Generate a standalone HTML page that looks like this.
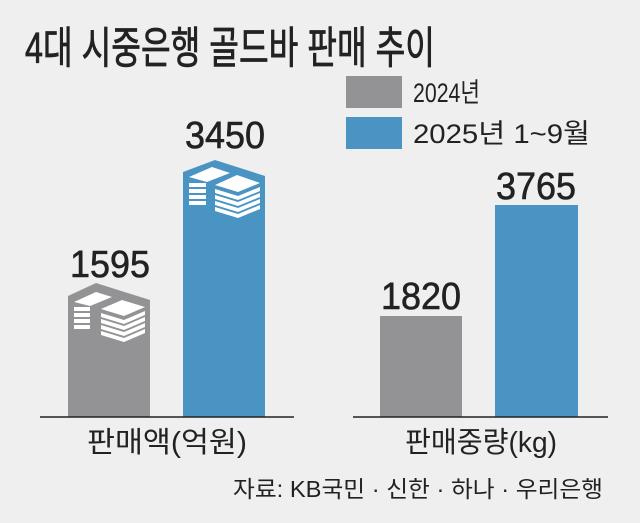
<!DOCTYPE html>
<html><head><meta charset="utf-8"><style>
html,body{margin:0;padding:0;background:#efefef;}
svg{display:block}
text{font-family:"Liberation Sans","Noto Sans CJK KR",sans-serif;fill:#222;}
</style></head><body>
<svg width="640" height="523" viewBox="0 0 640 523">
<rect width="640" height="523" fill="#efefef"/>
<text x="25" y="63" font-size="44" stroke="#222" stroke-width="0.8" textLength="410" lengthAdjust="spacingAndGlyphs">4대 시중은행 골드바 판매 추이</text>
<rect x="346" y="76" width="56" height="32" fill="#939396"/>
<rect x="346" y="117" width="56" height="32" fill="#4a94c4"/>
<text x="413" y="102" font-size="27" textLength="67" lengthAdjust="spacingAndGlyphs">2024년</text>
<text x="413" y="143" font-size="27" textLength="177" lengthAdjust="spacingAndGlyphs">2025년 1~9월</text>

<!-- left group -->
<polygon points="68,296 96,283 150,300 150,417 68,417" fill="#939396"/>
<g fill="#fff">
<polygon points="74,302 96,292 112,297 90,306"/>
<rect x="74" y="307" width="16" height="4"/><rect x="74" y="313" width="16" height="4"/><rect x="74" y="319" width="16" height="4"/><rect x="74" y="325" width="16" height="4"/>
<polygon points="101,309 122,300 145,307 124,316"/>
<polygon points="101,313 124,320 145,311 145,315 124,324 101,317"/>
<polygon points="101,319 124,326 145,317 145,321 124,330 101,323"/>
<polygon points="101,325 124,332 145,323 145,327 124,336 101,329"/>
<polygon points="101,331 124,338 145,329 145,333 124,342 101,335"/>
</g>
<polygon points="183,172 215,160 265,176 265,417 183,417" fill="#4a94c4"/>
<g fill="#fff">
<polygon points="189,177 212,167 230,173 207,182"/>
<rect x="189" y="183" width="17" height="4"/><rect x="189" y="189" width="17" height="4"/><rect x="189" y="195" width="17" height="4"/><rect x="189" y="201" width="17" height="4"/>
<polygon points="215,185 237,175 260,183 238,192"/>
<polygon points="215,189 238,196 260,187 260,191 238,200 215,193"/>
<polygon points="215,195 238,202 260,193 260,197 238,206 215,199"/>
<polygon points="215,201 238,208 260,199 260,203 238,212 215,205"/>
<polygon points="215,207 238,214 260,205 260,209 238,218 215,211"/>
</g>
<line x1="40" y1="417" x2="294" y2="417" stroke="#222" stroke-width="1.5"/>
<text x="110" y="277" font-size="38" stroke="#222" stroke-width="0.6" text-anchor="middle" textLength="80" lengthAdjust="spacingAndGlyphs">1595</text>
<text x="225" y="148" font-size="38" stroke="#222" stroke-width="0.6" text-anchor="middle" textLength="80" lengthAdjust="spacingAndGlyphs">3450</text>
<text x="167" y="452" font-size="29" text-anchor="middle" textLength="160" lengthAdjust="spacingAndGlyphs">판매액(억원)</text>

<!-- right group -->
<rect x="380" y="316" width="82" height="101" fill="#939396"/>
<rect x="495" y="205" width="83" height="212" fill="#4a94c4"/>
<line x1="353" y1="417" x2="608" y2="417" stroke="#222" stroke-width="1.5"/>
<text x="421" y="309" font-size="38" stroke="#222" stroke-width="0.6" text-anchor="middle" textLength="80" lengthAdjust="spacingAndGlyphs">1820</text>
<text x="536" y="199" font-size="38" stroke="#222" stroke-width="0.6" text-anchor="middle" textLength="80" lengthAdjust="spacingAndGlyphs">3765</text>
<text x="481" y="452" font-size="29" text-anchor="middle" textLength="152" lengthAdjust="spacingAndGlyphs">판매중량(kg)</text>

<text x="233" y="497" font-size="23" textLength="370" lengthAdjust="spacingAndGlyphs">자료: KB국민 · 신한 · 하나 · 우리은행</text>
</svg>
</body></html>
